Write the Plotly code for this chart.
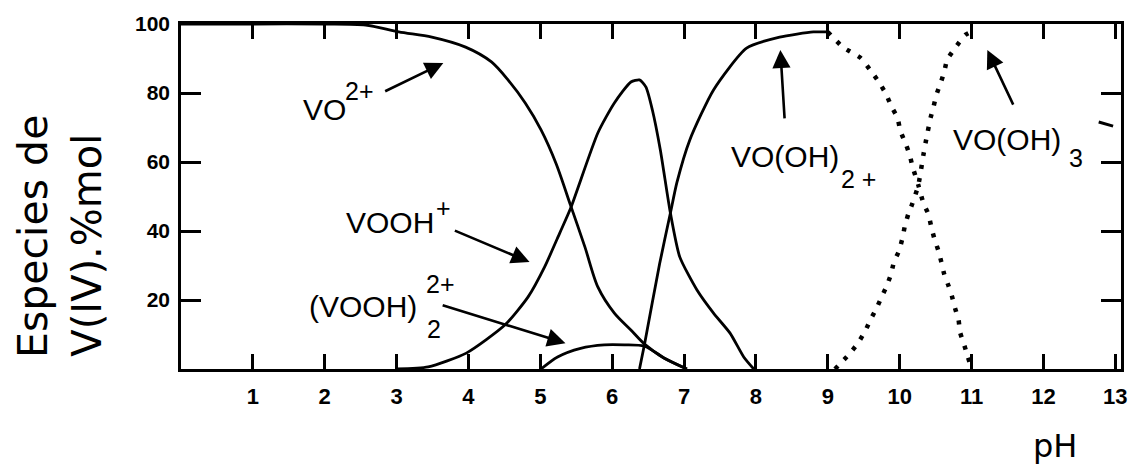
import plotly.graph_objects as go

# Speciation of V(IV) versus pH (% mol)
ph_vo = [0, 1, 2, 2.57, 3.03, 3.49, 3.96, 4.32, 4.55, 4.79, 5.01, 5.22, 5.42, 5.62, 5.8, 6.03, 6.26, 6.45, 6.72, 7.04]
pct_vo = [100, 100, 100, 99.7, 97.7, 96.2, 93.3, 89, 83.8, 77.1, 69.3, 59.5, 47.5, 35.4, 23.8, 16.2, 11.3, 7.2, 3.2, 0]

ph_vooh = [3.0, 3.44, 3.97, 4.51, 4.83, 5.06, 5.27, 5.42, 5.8, 6.03, 6.26, 6.38, 6.47, 6.56, 6.67, 6.81, 6.94, 7.18, 7.41, 7.64, 7.83, 7.97]
pct_vooh = [0, 0.6, 4.6, 12.8, 20.9, 29.6, 39.4, 46.5, 68.4, 77.1, 83.2, 83.8, 81.7, 75, 63.5, 45.2, 32.5, 22.9, 16.2, 10.4, 3.5, 0]

ph_dimer = [5.01, 5.24, 5.56, 5.89, 6.17, 6.45, 6.72, 7.04]
pct_dimer = [0, 3.5, 6, 7, 7, 6.6, 3.2, 0]

ph_vooh2 = [6.38, 6.45, 6.66, 6.81, 6.9, 7.08, 7.41, 7.87, 8.33, 8.8, 9.0,
            9.21, 9.46, 9.6, 9.71, 9.81, 9.89, 9.97, 10.01, 10.08, 10.14, 10.18, 10.26,
            10.33, 10.4, 10.44, 10.48, 10.54, 10.58, 10.62, 10.68, 10.73, 10.77, 10.82,
            10.84, 10.89, 10.95, 11.0]
pct_vooh2 = [0, 7.2, 30.5, 45.2, 54, 66.4, 80.9, 93, 96.2, 97.7, 97.7,
             93.3, 90.1, 86.4, 83.2, 79.7, 75.9, 72.8, 69, 65.5, 62, 58.6, 53.3,
             48.1, 44.9, 41.2, 38, 34.2, 31, 27.5, 24.1, 20.9, 17.7, 14.2,
             10.7, 7.5, 3.5, 0]
ph_solid_limit = 9.0  # above this pH the curve is drawn dotted

ph_vooh3 = [9.1, 9.29, 9.42, 9.52, 9.6, 9.68, 9.75, 9.82, 9.88, 9.92, 9.99, 10.04, 10.07,
            10.12, 10.18, 10.26, 10.33, 10.36, 10.39, 10.43, 10.47, 10.51, 10.57, 10.62,
            10.66, 10.77, 10.91, 10.97]
pct_vooh3 = [0, 4.1, 7.5, 11, 14.5, 17.7, 20.9, 24.1, 27.5, 31, 34.2, 38, 41.2,
             44.9, 48.1, 53.3, 62, 65.5, 68.7, 72.8, 75.9, 79.4, 82.9, 86.1,
             89.6, 93, 96.8, 97.5]

x_ticks = [1, 2, 3, 4, 5, 6, 7, 8, 9, 10, 11, 12, 13]
y_ticks = [20, 40, 60, 80, 100]

solid = dict(color="black", width=2.8)
dotted = dict(color="black", width=4.5, dash="4px,9px")

fig = go.Figure()


def add_curve(xs, ys, line, smooth=0.8):
    fig.add_trace(go.Scatter(x=xs, y=ys, mode="lines", line=line,
                             line_shape="spline", line_smoothing=smooth,
                             hoverinfo="skip", showlegend=False))


add_curve(ph_vo, pct_vo, solid)
add_curve(ph_vooh, pct_vooh, solid, 0.6)
add_curve(ph_dimer, pct_dimer, solid)
cut = [i for i, p in enumerate(ph_vooh2) if p <= ph_solid_limit]
k = cut[-1]
add_curve(ph_vooh2[:k + 1], pct_vooh2[:k + 1], solid, 0.6)
add_curve(ph_vooh2[k:], pct_vooh2[k:], dotted, 0.5)
add_curve(ph_vooh3, pct_vooh3, dotted, 0.5)

label_font = dict(family="Liberation Sans, Arial, sans-serif", size=30, color="black")
small_font = dict(family="Liberation Sans, Arial, sans-serif", size=25, color="black")

annotations = []


def label(text, x, y, font=label_font):
    annotations.append(dict(text=text, x=x, y=y, xref="x", yref="y",
                            xanchor="left", yanchor="middle", showarrow=False,
                            font=font))


def arrow(x0, y0, x1, y1):
    annotations.append(dict(text="", x=x1, y=y1, ax=x0, ay=y0, xref="x", yref="y",
                            axref="x", ayref="y", showarrow=True, arrowhead=2,
                            arrowsize=1.4, arrowwidth=2.6, arrowcolor="black",
                            standoff=0, startstandoff=0))


# species labels
label("VO", 1.67, 75.1)
label("2+", 2.26, 80.5, small_font)
label("VOOH", 2.27, 42.6)
label("+", 3.52, 46.7, small_font)
label("(VOOH)", 1.76, 18.0)
label("2+", 3.38, 24.6, small_font)
label("2", 3.4, 11.6, small_font)
label("VO(OH)", 7.63, 61.7)
label("2 +", 9.15, 55.0, small_font)
label("VO(OH)", 10.71, 66.4)
label("3", 12.33, 61.2, small_font)

# pointers
arrow(2.82, 80.3, 3.65, 88.7)
arrow(3.79, 40.3, 4.85, 31.0)
arrow(3.62, 18.6, 5.35, 7.5)
arrow(8.4, 72.2, 8.34, 92.5)
arrow(11.59, 76.2, 11.22, 92.5)

title_font = dict(family="DejaVu Sans, sans-serif", size=41, color="black")
annotations += [
    dict(text="Especies de", x=-0.1575, y=0.3855, xref="paper", yref="paper",
         textangle=-90, showarrow=False, xanchor="center", yanchor="middle",
         font=title_font),
    dict(text="V(IV).%mol", x=-0.1004, y=0.3594, xref="paper", yref="paper",
         textangle=-90, showarrow=False, xanchor="center", yanchor="middle",
         font=dict(title_font, size=40)),
    dict(text="pH", x=0.930, y=-0.284, xref="paper", yref="paper",
         showarrow=False, xanchor="center", yanchor="bottom",
         font=dict(family="DejaVu Sans, sans-serif", size=32, color="black")),
]

tick_font = dict(family="Liberation Sans, Arial, sans-serif", size=22,
                 color="black", weight="bold")

fig.update_layout(
    width=1131, height=468,
    margin=dict(l=181, r=4, t=24, b=99),
    plot_bgcolor="white", paper_bgcolor="white",
    showlegend=False,
    annotations=annotations,
    shapes=[dict(type="line", xref="x", yref="y", x0=12.77, y0=71.6, x1=12.97, y1=70.4,
                 line=dict(color="black", width=3))],
    xaxis=dict(range=[0, 13.08], tickvals=x_ticks, ticktext=[str(v) for v in x_ticks],
               ticks="inside", ticklen=15, tickwidth=2.5, tickcolor="black",
               showline=True, linecolor="black", linewidth=2.6, mirror="ticks",
               showgrid=False, zeroline=False, tickfont=tick_font,
               ticklabelstandoff=6),
    yaxis=dict(range=[0, 100], tickvals=y_ticks, ticktext=[str(v) for v in y_ticks],
               ticks="inside", ticklen=20, tickwidth=2.5, tickcolor="black",
               showline=True, linecolor="black", linewidth=2.6, mirror="ticks",
               showgrid=False, zeroline=False, tickfont=dict(tick_font, size=21),
               ticklabelstandoff=4),
)

fig.write_html("out.html")
